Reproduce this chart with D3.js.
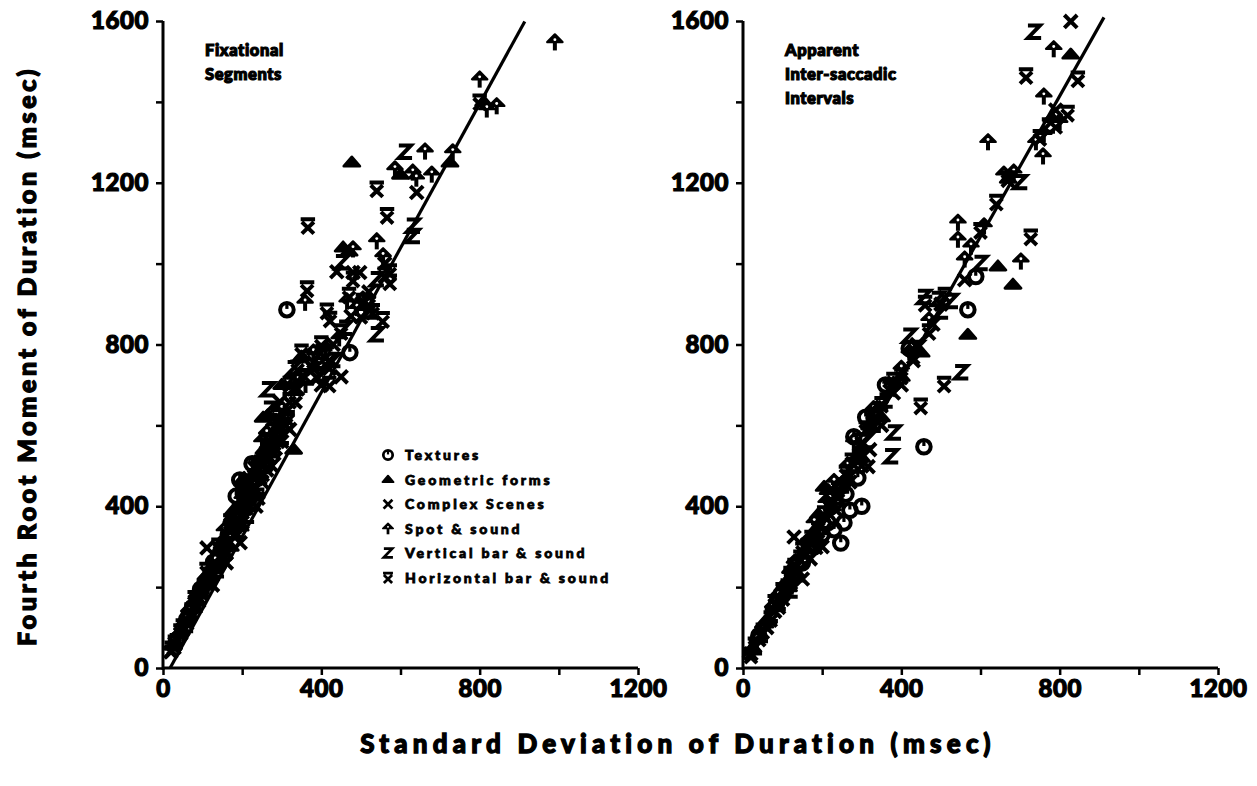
<!DOCTYPE html>
<html>
<head>
<meta charset="utf-8">
<script src="https://cdn.jsdelivr.net/npm/d3@7"></script>
<style>
  body { margin: 0; background: #fff; }
  text { font-family: Lato, "Liberation Sans", "DejaVu Sans", sans-serif; font-weight: 900; fill: #000; }
</style>
</head>
<body>
<svg id="chart"></svg>
<script>
// legend categories, in legend order
const categories = ["Textures", "Geometric forms", "Complex Scenes", "Spot & sound", "Vertical bar & sound", "Horizontal bar & sound"];
const symbolKeys = ["textures", "geometric", "complex", "spot", "vbar", "hbar"];

const xTicks = [0, 200, 400, 600, 800, 1000, 1200];
const yTicks = [0, 200, 400, 600, 800, 1000, 1200, 1400, 1600];
const labelledTicks = [0, 400, 800, 1200, 1600];

// regression line ends [sd, fourth root moment]
const fixLine = [[18, 0], [914, 1599]];
const isiLine = [[0, 25], [912, 1609]];

// ---- Fixational segments (left panel), [sd, 4th root moment] in msec
const fixTextures = [[313,886],[472,780],[194,465],[172,356],[185,425],[205,440],[128,262],[95,195],[60,120],[150,300],[225,505],[270,560],
  [35,70],[75,150],[115,215],[140,255],[165,330],[190,380],[215,420],[240,470],[260,500]];
const fixGeometric = [[477,1250],[455,1040],[725,1250],[253,619],[265,625],[330,540],[285,590],[180,350],[140,280],[110,230],[70,150],[40,85],
  [300,700],[350,770],[230,480],[200,400],[470,1030],[810,1400],[600,1220],
  [25,55],[55,115],[85,170],[105,205],[125,245],[155,310],[170,300],[195,350],[215,445],[235,430],[255,540],[275,560],[290,610],[310,635],
  [178,390],[245,520],[205,470]];
const fixComplex = [[111,297],[295,658],[303,606],[480,978],[497,978],[439,980],[641,1176],[560,1000],[420,760],[380,740],[350,720],[330,690],
  [290,560],[270,520],[245,470],[220,400],[200,360],[180,330],[150,280],[130,250],[100,190],[80,160],[60,110],[45,85],[30,60],[20,40],
  [160,260],[240,420],[310,600],[400,700],[420,740],[450,720],
  [28,50],[50,95],[68,130],[90,165],[118,220],[138,270],[158,290],[175,345],[188,330],[208,395],[228,440],[250,460],[262,490],[280,530],[300,560],[320,590],
  [340,690],[375,745],[430,800],[475,870],[520,930],
  [195,310],[235,400],[275,500],[125,205]];
const fixSpot = [[990,1547],[800,1455],[843,1389],[818,1381],[662,1277],[586,1233],[631,1225],[679,1220],[732,1275],[540,1055],[556,1018],[480,1035],
  [359,903],[465,906],[640,1210],[505,911],[300,640],[250,560],[200,420],[160,320],[120,240],[90,180],[60,120],[410,790],[380,780],[330,700],[280,600],
  [40,80],[65,140],[95,175],[108,220],[132,265],[146,290],[168,320],[185,370],[205,380],[222,430],[242,500],[268,520],[285,580],
  [360,700],[445,815],[490,890],
  [155,340],[230,455],[262,580]];
const fixVbar = [[611,1275],[631,1092],[631,1067],[452,1002],[540,824],[265,688],[270,640],[330,740],[360,720],[300,570],[250,500],[200,400],
  [150,300],[100,200],[60,120],[430,760],[400,780],[520,880],[220,460],
  [32,65],[58,105],[82,155],[112,210],[136,240],[162,305],[180,350],[198,410],[218,420],[238,455],[258,510],[278,540],[298,600],
  [395,725],[460,840],[540,960],
  [212,375],[188,355]];
const fixHbar = [[540,1183],[566,1117],[366,1092],[573,978],[573,953],[364,936],[414,881],[422,861],[800,1398],[530,880],[555,860],[480,960],
  [400,800],[380,760],[340,740],[320,700],[290,620],[260,560],[230,500],[200,440],[170,360],[140,300],[110,240],[80,170],[50,100],[30,60],
  [470,920],[450,830],[500,870],[390,720],[420,700],[520,900],[560,970],[350,780],[320,660],
  [22,45],[44,88],[72,140],[98,185],[122,228],[144,278],[170,340],[192,390],[212,410],[232,470],[252,480],[272,545],[292,575],[315,615],[335,660],
  [410,770],[505,905],
  [160,285],[248,505],[285,545]];

// ---- Apparent inter-saccadic intervals (right panel)
const isiTextures = [[457,547],[331,619],[280,572],[255,359],[247,309],[230,342],[588,968],[568,886],[200,330],[270,390],[300,400],[180,300],
  [150,260],[100,180],[310,620],[360,700],[420,790],
  [40,80],[85,160],[125,230],[165,290],[215,360],[260,430],[290,470]];
const isiGeometric = [[828,1517],[644,993],[682,948],[568,824],[205,448],[215,440],[780,1360],[300,520],[250,460],[150,280],[100,200],[60,120],
  [400,720],[450,780],[350,620],[670,1210],
  [25,50],[55,110],[80,150],[115,200],[140,260],[175,330],[190,380],[225,400],[260,470],[285,520],[320,600],
  [120,245],[185,345]];
const isiComplex = [[828,1599],[316,498],[129,324],[790,1380],[440,800],[400,700],[380,680],[350,600],[320,540],[300,500],[270,460],[240,420],
  [210,370],[180,320],[160,280],[140,240],[120,210],[100,170],[80,140],[60,100],[40,70],[20,35],[500,900],[560,960],[150,220],[110,200],
  [90,150],[200,300],[430,760],[480,850],
  [235,390],[170,270]];
const isiSpot = [[785,1530],[760,1413],[619,1300],[758,1265],[543,1101],[609,1092],[543,1059],[576,1042],[702,1005],[659,1220],[684,1225],
  [740,1300],[560,1010],[470,860],[420,780],[380,700],[330,640],[280,560],[230,460],[180,360],[130,260],[90,180],[50,100],[800,1350],
  [760,1320],[400,740],
  [35,70],[65,110],[105,200],[145,250],[160,310],[195,330],[245,440],[265,500],[300,540],[345,640],
  [210,410],[75,150]];
const isiVbar = [[735,1572],[457,916],[492,911],[525,906],[551,730],[374,522],[381,581],[420,820],[440,790],[500,880],[600,1000],[700,1200],
  [770,1340],[330,600],[280,500],[230,420],[160,300],[110,200],[70,130],[30,50],[360,660],
  [45,80],[90,160],[135,230],[170,320],[205,360],[250,450],[290,520],[310,560],
  [120,190],[265,470]];
const isiHbar = [[715,1463],[846,1455],[727,1064],[508,700],[449,646],[669,1208],[820,1370],[790,1340],[750,1310],[640,1150],[600,1080],
  [470,830],[430,770],[400,720],[370,690],[330,620],[300,560],[260,480],[220,400],[190,340],[150,290],[120,230],[80,160],[50,90],[20,30],
  [460,900],[510,920],
  [30,55],[70,120],[100,190],[130,250],[165,300],[205,380],[240,440],[275,510],[310,590],[350,650],[380,710],
  [145,270],[185,300]];

const fixSeries = [fixTextures, fixGeometric, fixComplex, fixSpot, fixVbar, fixHbar];
const isiSeries = [isiTextures, isiGeometric, isiComplex, isiSpot, isiVbar, isiHbar];

var width = 1257, height = 786;
var svg = d3.select("#chart").attr("width", width).attr("height", height);

// draws one of the hand-made markers into a group, s = half size
function draw_symbol(g, key, s) {
  let sw = s * 0.5;
  if (key === "textures") {
    g.append("circle").attr("r", s * 0.85).attr("fill", "none").attr("stroke", "#000").attr("stroke-width", sw);
    g.append("line").attr("x1", 0).attr("x2", 0).attr("y1", -s * 0.85).attr("y2", -s * 0.1)
     .attr("stroke", "#000").attr("stroke-width", sw * 0.8);
  } else if (key === "geometric") {
    g.append("path").attr("d", "M" + (-s) + "," + (s * 0.45) + " L0," + (-s * 0.7) + " L" + s + "," + (s * 0.45) + " Z")
     .attr("fill", "#000").attr("stroke", "#000").attr("stroke-width", sw * 0.7).attr("stroke-linejoin", "round");
  } else if (key === "complex") {
    g.append("path").attr("d", "M" + (-s * 0.8) + "," + (-s * 0.8) + " L" + (s * 0.8) + "," + (s * 0.8) +
                               " M" + (s * 0.8) + "," + (-s * 0.8) + " L" + (-s * 0.8) + "," + (s * 0.8))
     .attr("stroke", "#000").attr("stroke-width", sw).attr("fill", "none");
  } else if (key === "spot") {
    g.append("path").attr("d", "M0," + (-s) + " L" + (-s * 0.95) + "," + (-s * 0.05) + " L" + (s * 0.95) + "," + (-s * 0.05) + " Z")
     .attr("fill", "#000").attr("stroke", "#000").attr("stroke-width", sw * 0.6).attr("stroke-linejoin", "round");
    g.append("circle").attr("cy", -s * 0.35).attr("r", s * 0.18).attr("fill", "#fff");
    g.append("line").attr("x1", 0).attr("x2", 0).attr("y1", 0).attr("y2", s)
     .attr("stroke", "#000").attr("stroke-width", sw);
  } else if (key === "vbar") {
    g.append("path").attr("d", "M" + (-s * 0.75) + "," + (-s * 0.85) + " H" + (s * 0.75) +
                               " L" + (-s * 0.75) + "," + (s * 0.7) + " H" + (s * 0.9))
     .attr("stroke", "#000").attr("stroke-width", sw).attr("fill", "none").attr("stroke-linejoin", "miter");
  } else if (key === "hbar") {
    g.append("path").attr("d", "M" + (-s * 0.9) + "," + (-s * 0.9) + " H" + (s * 0.9) +
                               " M" + (-s * 0.75) + "," + (-s * 0.55) + " L" + (s * 0.75) + "," + (s * 0.9) +
                               " M" + (s * 0.75) + "," + (-s * 0.55) + " L" + (-s * 0.75) + "," + (s * 0.9))
     .attr("stroke", "#000").attr("stroke-width", sw).attr("fill", "none");
  }
}

function d3_append_axes(x, y) {
  let yAxis = d3.axisLeft(y)
                .tickValues(yTicks)
                .tickSize(7)
                .tickPadding(7)
                .tickFormat(d => labelledTicks.indexOf(d) >= 0 ? d : "");
  let xAxis = d3.axisBottom(x)
                .tickValues(xTicks)
                .tickSize(7)
                .tickPadding(5)
                .tickFormat(d => labelledTicks.indexOf(d) >= 0 ? d : "");

  let gy = svg.append("g")
              .attr("transform", "translate(" + x(0) + ",0)")
              .call(yAxis);
  let gx = svg.append("g")
              .attr("transform", "translate(0," + y(0) + ")")
              .call(xAxis);

  [gx, gy].forEach(function(g) {
    g.select(".domain").remove();
    g.selectAll(".tick line").attr("stroke", "#000").attr("stroke-width", 2.5);
    g.selectAll(".tick text")
     .attr("font-size", 24)
     .attr("font-weight", 900)
     .attr("letter-spacing", 0.6)
     .attr("stroke", "#000")
     .attr("stroke-width", 1.2)
     .attr("font-family", "Lato, 'Liberation Sans', sans-serif");
  });
  svg.append("line").attr("x1", x(0)).attr("x2", x(0)).attr("y1", y(0) + 2).attr("y2", y(1600))
     .attr("stroke", "#000").attr("stroke-width", 3);
  svg.append("line").attr("x1", x(0) - 1).attr("x2", x(1200)).attr("y1", y(0)).attr("y2", y(0))
     .attr("stroke", "#000").attr("stroke-width", 3);
}

function make_panel(series, lineEnds, xrange, title_lines, title_x) {
  let x = d3.scaleLinear().domain([0, 1200]).range(xrange);
  let y = d3.scaleLinear().domain([0, 1600]).range([668, 21]);

  d3_append_axes(x, y);

  svg.append("line")
     .attr("x1", x(lineEnds[0][0])).attr("y1", y(lineEnds[0][1]))
     .attr("x2", x(lineEnds[1][0])).attr("y2", y(lineEnds[1][1]))
     .attr("stroke", "#000").attr("stroke-width", 3.2);

  series.forEach(function(pts, i) {
    let g = svg.append("g").attr("class", symbolKeys[i]);
    g.selectAll("g")
     .data(pts)
     .enter()
     .append("g")
     .attr("transform", d => "translate(" + x(d[0]) + "," + y(d[1]) + ")")
     .each(function() { draw_symbol(d3.select(this), symbolKeys[i], 8); });
  });

  title_lines.forEach(function(t, i) {
    svg.append("text")
       .attr("x", title_x)
       .attr("y", 56 + i * 24)
       .attr("font-size", 16.5)
       .attr("letter-spacing", 0.6)
       .attr("stroke", "#000")
       .attr("stroke-width", 1.2)
       .text(t);
  });
  return { x, y };
}

make_panel(fixSeries, fixLine, [163, 638], ["Fixational", "Segments"], 205);
make_panel(isiSeries, isiLine, [743, 1218], ["Apparent", "Inter-saccadic", "Intervals"], 785);

// legend (left panel)
var legend = svg.append("g").attr("transform", "translate(388,455)");
categories.forEach(function(c, i) {
  let row = legend.append("g").attr("transform", "translate(0," + (i * 24.6) + ")");
  draw_symbol(row.append("g"), symbolKeys[i], 5.5);
  row.append("text")
     .attr("x", 17)
     .attr("y", 5)
     .attr("font-size", 14)
     .attr("letter-spacing", 2.8)
     .attr("stroke", "#000")
     .attr("stroke-width", 0.8)
     .text(c);
});

// axis titles
svg.append("text")
   .attr("transform", "translate(36,356) rotate(-90)")
   .attr("text-anchor", "middle")
   .attr("font-size", 25)
   .attr("letter-spacing", 3.6)
   .attr("stroke", "#000")
   .attr("stroke-width", 1.3)
   .text("Fourth Root Moment of Duration (msec)");

svg.append("text")
   .attr("x", 678)
   .attr("y", 753)
   .attr("text-anchor", "middle")
   .attr("font-size", 26)
   .attr("letter-spacing", 5.2)
   .attr("stroke", "#000")
   .attr("stroke-width", 1.3)
   .text("Standard Deviation of Duration (msec)");
</script>
</body>
</html>
